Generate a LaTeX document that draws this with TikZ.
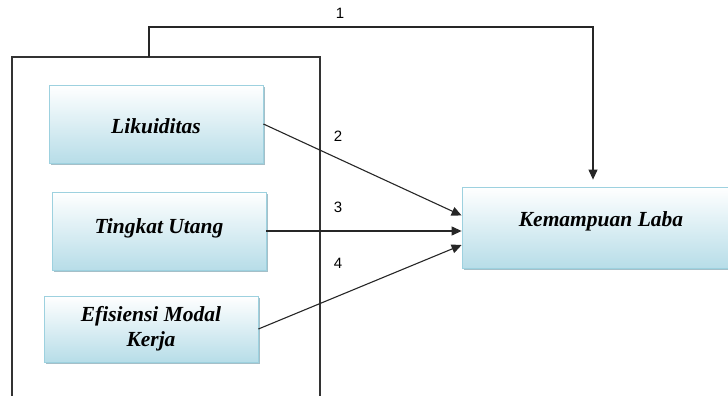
\documentclass[tikz,border=0pt]{standalone}
\usepackage{fontspec}
\setmainfont{Liberation Serif}
\newfontfamily\numfont{Liberation Sans}
\usetikzlibrary{arrows.meta,shadows,positioning}
\definecolor{boxfill}{HTML}{B7DDE8}
\definecolor{boxline}{HTML}{9DD1DF}
\definecolor{boxshadow}{HTML}{8FAFBA}
\tikzset{
  varbox/.style={draw=boxline, line width=.8pt, top color=white, bottom color=boxfill,
    drop shadow={shadow xshift=2pt,shadow yshift=-2pt,fill=boxshadow,opacity=.8},
    minimum width=214pt, minimum height=78pt, inner sep=0pt},
  vartext/.style={font=\fontsize{21.5}{25}\selectfont\bfseries\itshape, align=center, inner sep=0pt},
  numlabel/.style={font=\numfont\fontsize{15}{18}\selectfont, inner sep=0pt},
  link/.style={draw=black!85, line width=1.1pt, -{Triangle[length=10pt,width=9pt]}}
}
\begin{document}
\begin{tikzpicture}[x=1pt,y=-1pt]
\useasboundingbox (0,0) rectangle (728,396);
\clip (0,0) rectangle (728,396);
% frame round the three variables
\node[draw=black!80, line width=1.3pt, minimum width=308pt, minimum height=400pt] (frame) at (166,257) {};
\node[varbox] (lik) at (156,124) {};
\node[varbox] (tu) at (159,231) {};
\node[varbox, minimum height=66pt] (emk) at (151,329) {};
\node[varbox, minimum width=300pt, minimum height=81pt] (kl) at (612,227.5) {};
\node[vartext] (liktxt) at ([yshift=-1.7pt]lik.center) {Likuiditas};
\node[vartext] (tutxt) at ([yshift=3pt]tu.center) {Tingkat Utang};
\node[vartext] (emktxt) at (emk.center) {Efisiensi Modal\\Kerja};
\node[vartext] (kltxt) at ([xshift=-11pt,yshift=6.5pt]kl.center) {Kemampuan Laba};
% connectors
\coordinate (f1) at (149,57);
\coordinate (c1) at (593,27);
\draw[link, shorten >=7pt] (f1) |- (c1) -- (kl.north -| c1);
\draw[link] (lik.east) -- ([yshift=12pt]kl.west);
\draw[link] (tu.east) -- ([yshift=-3.5pt]kl.west);
\draw[link] (emk.east) -- ([yshift=-17.5pt]kl.west);
\node[numlabel] (n1) at (340,13) {1};
\foreach \n/\y in {2/136,3/207,4/263}
\node[numlabel] (n\n) at (338,\y) {\n};
\end{tikzpicture}
\end{document}
